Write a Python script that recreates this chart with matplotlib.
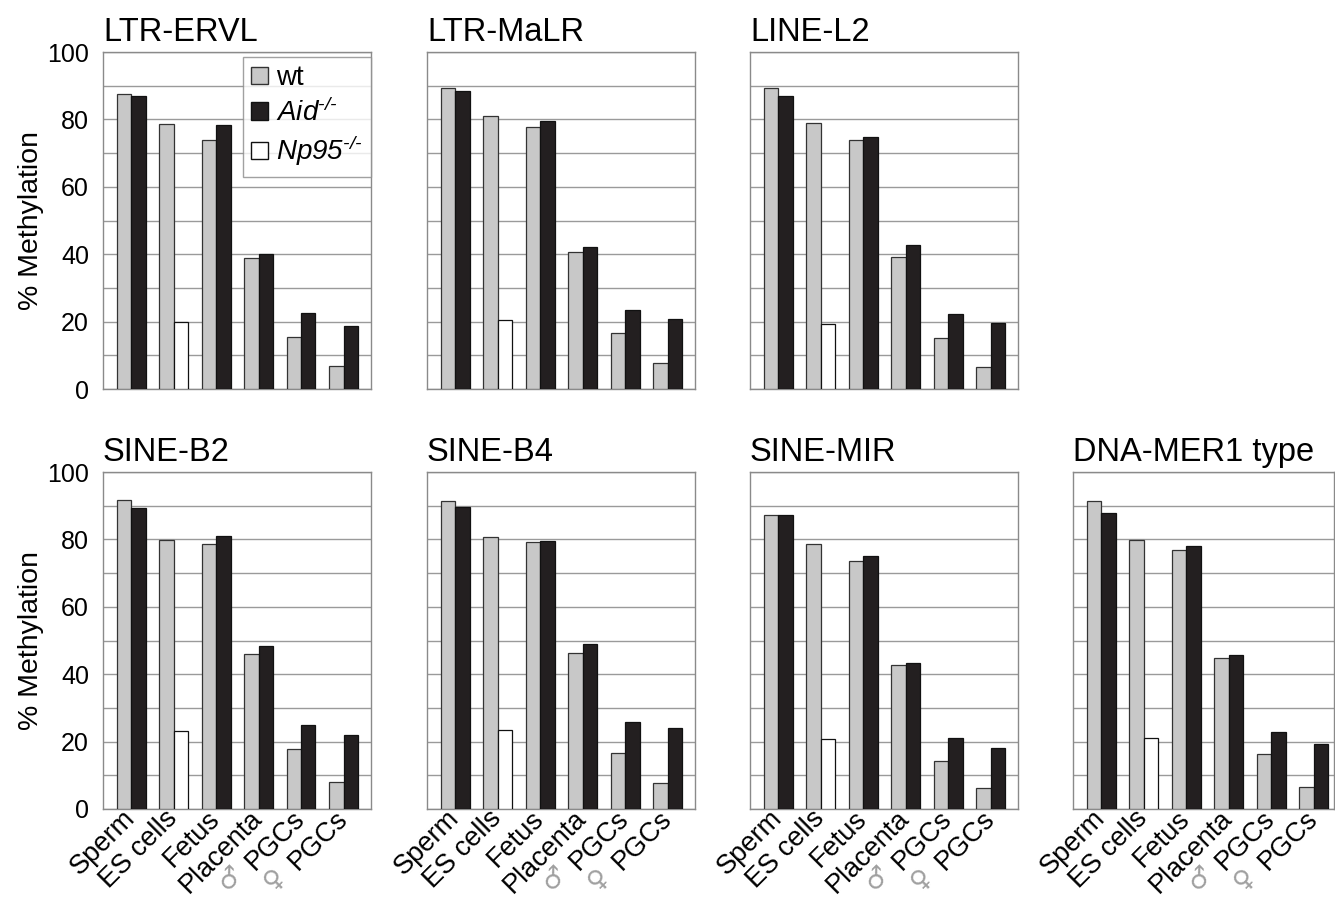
import numpy as np
import matplotlib
matplotlib.use("Agg")
import matplotlib.pyplot as plt
from matplotlib.patches import Patch

plt.rcParams["font.family"] = ["Liberation Sans", "DejaVu Sans"]
# mathtext is only used for the legend genotypes, which are all italic
plt.rcParams["mathtext.fontset"] = "custom"
plt.rcParams["mathtext.rm"] = "Liberation Sans:italic"
plt.rcParams["mathtext.it"] = "Liberation Sans:italic"

# tissues / cell types on the x axis
categories = ["Sperm", "ES cells", "Fetus", "Placenta", "PGCs", "PGCs"]
sex_marks = ["", "", "", "", "\u2642", "\u2640"]

panels = ["LTR-ERVL", "LTR-MaLR", "LINE-L2",
          "SINE-B2", "SINE-B4", "SINE-MIR", "DNA-MER1 type"]

# % methylation, wild type
wt = [
    [87.5, 78.7, 74.0, 38.8, 15.5, 6.8],
    [89.3, 81.0, 77.6, 40.6, 16.5, 7.6],
    [89.3, 79.0, 74.0, 39.1, 15.0, 6.5],
    [91.6, 79.7, 78.7, 45.9, 17.7, 7.9],
    [91.5, 80.7, 79.2, 46.4, 16.7, 7.7],
    [87.3, 78.7, 73.5, 42.6, 14.3, 6.3],
    [91.4, 79.9, 76.9, 44.8, 16.3, 6.5],
]
# Aid-/- (no ES cells sample)
aid = [
    [87.0, np.nan, 78.4, 40.0, 22.5, 18.7],
    [88.5, np.nan, 79.5, 42.0, 23.5, 20.9],
    [86.9, np.nan, 74.8, 42.8, 22.4, 19.7],
    [89.2, np.nan, 81.1, 48.4, 25.0, 22.1],
    [89.5, np.nan, 79.6, 48.9, 25.8, 23.9],
    [87.3, np.nan, 75.1, 43.2, 21.0, 18.1],
    [87.7, np.nan, 77.9, 45.6, 22.8, 19.4],
]
# Np95-/- ES cells only
np95 = [20.0, 20.4, 19.3, 23.2, 23.4, 20.7, 21.1]

W, H = 1335, 898
fig = plt.figure(figsize=(W / 100, H / 100), dpi=100)

lefts = [103, 427, 750, 103, 427, 750, 1073]
tops = [52, 52, 52, 472, 472, 472, 472]
pw, ph = 268, 337
scale = 42.5  # px per group

x = np.arange(len(categories))
bw = 0.34
gray, black = "#c8c8c8", "#231f20"

for i, name in enumerate(panels):
    w = min(pw, W - lefts[i] - 1)
    ax = fig.add_axes([lefts[i] / W, 1 - (tops[i] + ph) / H, w / W, ph / H])
    ax.bar(x - bw / 2, wt[i], bw, color=gray, edgecolor="#333333", lw=0.9, zorder=3)
    ax.bar(x + bw / 2, aid[i], bw, color=black, edgecolor="#111111", lw=0.9, zorder=3)
    ax.bar([1 + bw / 2], [np95[i]], bw, color="white", edgecolor="#111111", lw=0.9, zorder=3)

    ax.set_xlim(-0.66, -0.66 + w / scale)
    ax.set_ylim(0, 100)
    ax.set_yticks(np.arange(0, 101, 10))
    ax.yaxis.grid(True, color="#9a9a9a", lw=1.0, zorder=0)
    ax.tick_params(length=0)
    for s in ax.spines.values():
        s.set_color("#8a8a8a")
        s.set_linewidth(1.0)

    if lefts[i] == 103:
        ax.set_yticklabels([str(v) if v % 20 == 0 else "" for v in range(0, 101, 10)],
                           fontsize=18)
        ax.tick_params(axis="y", pad=10)
        ax.set_ylabel("% Methylation", fontsize=20.5, labelpad=2)
    else:
        ax.set_yticklabels([])

    ax.set_title(name, loc="left", fontsize=23.5, pad=8, x=0.0)

    if i >= 3:
        ax.set_xticks(x)
        ax.set_xticklabels(categories, rotation=45, ha="right", va="center",
                           rotation_mode="anchor", fontsize=19.5)
        ax.tick_params(axis="x", pad=4)
        for k, mark in enumerate(sex_marks):
            if mark:
                ax.annotate(mark, xy=(k, 0), xycoords=("data", "axes fraction"),
                            xytext=(-50, -50), textcoords="offset points",
                            ha="center", va="center", rotation=45,
                            fontsize=19, color="#a0a0a0", family="DejaVu Sans")
    else:
        ax.set_xticks([])

    if i == 0:
        handles = [Patch(facecolor=gray, edgecolor="#333333"),
                   Patch(facecolor=black, edgecolor="#111111"),
                   Patch(facecolor="white", edgecolor="#111111")]
        labels = ["wt", "$\\mathrm{Aid}^{\u2010/\u2010}$", "$\\mathrm{Np95}^{\u2010/\u2010}$"]
        leg = ax.legend(handles, labels, loc="upper right", bbox_to_anchor=(1.0, 0.985),
                        fontsize=20, frameon=True, fancybox=False, handlelength=0.6,
                        handleheight=0.6, handletextpad=0.3, borderpad=0.3,
                        labelspacing=0.25, borderaxespad=0)
        leg.get_frame().set_edgecolor("#8a8a8a")
        leg.get_frame().set_linewidth(1.0)

fig.savefig("out.png", dpi=100)
